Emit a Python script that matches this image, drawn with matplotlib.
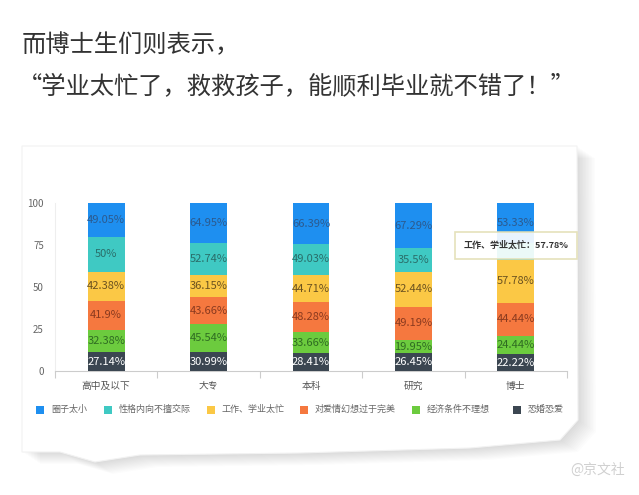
import numpy as np
import matplotlib
matplotlib.use("Agg")
import matplotlib.pyplot as plt
from matplotlib.patches import Polygon, FancyBboxPatch

plt.rcParams['font.family'] = ['Noto Sans CJK SC', 'DejaVu Sans']

# ---- data ----
categories = ["高中及以下", "大专", "本科", "研究", "博士"]
series_names = ["圈子太小", "性格内向不擅交际", "工作、学业太忙", "对爱情幻想过于完美", "经济条件不理想", "恐婚恐爱"]
quanzi   = [49.05, 64.95, 66.39, 67.29, 53.33]
xingge   = [50.00, 52.74, 49.03, 35.50, 22.22]
gongzuo  = [42.38, 36.15, 44.71, 52.44, 57.78]
aiqing   = [41.90, 43.66, 48.28, 49.19, 44.44]
jingji   = [32.38, 45.54, 33.66, 19.95, 24.44]
kongh    = [27.14, 30.99, 28.41, 26.45, 22.22]

colors = ['#1e8ff0', '#3fc9c3', '#fbc845', '#f5783f', '#6ccb3e', '#3b4651']
label_colors = ['#2c5a8e', '#2a6d69', '#6b5220', '#8a3a1f', '#2f6c22', '#ffffff']

W, H = 639, 495
fig = plt.figure(figsize=(W / 100, H / 100), dpi=100)
fig.patch.set_facecolor('white')

def px(x, y):
    return (x / W, 1 - y / H)

# title text
fig.text(*px(22, 45), "而博士生们则表示，", fontsize=17.5, color='#333333', va='center', ha='left')
fig.text(*px(18, 86), "“学业太忙了，救救孩子，能顺利毕业就不错了！”", fontsize=17.5,
         color='#333333', va='center', ha='left')

# card with soft shadow
card = [(22, 146), (577, 146), (578, 420), (560, 440), (470, 448), (300, 453),
        (140, 455), (95, 462), (60, 452), (22, 452)]
for k in range(12, 0, -1):
    sh = [(x + k * 1.5, y + k * 1.0) for x, y in card]
    fig.patches.append(Polygon([px(*p) for p in sh], closed=True, transform=fig.transFigure,
                               facecolor='#000000', alpha=0.011, edgecolor='none', zorder=0))
fig.patches.append(Polygon([px(*p) for p in card], closed=True, transform=fig.transFigure,
                           facecolor='white', edgecolor='#f2f2f2', lw=0.8, zorder=1))

# chart axes
x0, x1, ytop, ybot = 55, 567, 203, 371
ax = fig.add_axes([x0 / W, 1 - ybot / H, (x1 - x0) / W, (ybot - ytop) / H])
ax.set_facecolor('none')
ax.set_zorder(2)

data = np.array([quanzi, xingge, gongzuo, aiqing, jingji, kongh])
totals = data.sum(axis=0)
pct = data / totals * 100
xs = np.arange(len(categories))
bottom = np.zeros(len(categories))
# draw from bottom (last series) to top (first series)
for i in range(len(series_names) - 1, -1, -1):
    ax.bar(xs, pct[i], bottom=bottom, width=0.36, color=colors[i], zorder=3)
    for j in range(len(categories)):
        if i == 1 and j == 4:
            continue  # hidden under the tooltip
        v = data[i][j]
        txt = ("%.2f" % v).rstrip('0').rstrip('.') + "%"
        ax.text(xs[j], bottom[j] + pct[i][j] / 2, txt, ha='center', va='center',
                fontsize=8, color=label_colors[i], zorder=4)
    bottom += pct[i]

ax.set_xlim(-0.5, len(categories) - 0.5)
ax.set_ylim(0, 100)
ax.set_yticks([0, 25, 50, 75, 100])
ax.tick_params(axis='y', length=0, labelsize=7, labelcolor='#666666', pad=8)
ax.set_xticks(xs)
ax.set_xticklabels(categories)
ax.tick_params(axis='x', length=0, labelsize=7, labelcolor='#555555', pad=7)
ax.set_xticks(np.arange(len(categories) + 1) - 0.5, minor=True)
ax.tick_params(axis='x', which='minor', length=5, color='#cccccc', width=0.8)
for s in ['top', 'right']:
    ax.spines[s].set_visible(False)
ax.spines['left'].set_color('#eeeeee')
ax.spines['left'].set_linewidth(0.8)
ax.spines['bottom'].set_color('#cccccc')
ax.spines['bottom'].set_linewidth(0.8)

# tooltip over the 博士 teal segment
teal_top = pct[5][4] + pct[4][4] + pct[3][4] + pct[2][4] + pct[1][4]
ax.annotate("工作、学业太忙：57.78%", xy=(4, teal_top - pct[1][4]),
            xytext=(4, teal_top - 1.5), ha='center', va='center', fontsize=6.5, color='#333333',
            fontweight='bold', zorder=10, annotation_clip=False,
            bbox=dict(boxstyle='square,pad=0.95', fc='#ffffff', ec='#e3dfb4', lw=1.2, alpha=0.9))

# legend
leg_x = [36, 104, 207, 300, 412, 513]
for i, name in enumerate(series_names):
    fig.patches.append(FancyBboxPatch(px(leg_x[i], 414), 8 / W, 8 / H, boxstyle='square,pad=0',
                                      transform=fig.transFigure, facecolor=colors[i],
                                      edgecolor='none', zorder=3))
    fig.text(*px(leg_x[i] + 15, 409.5), name, fontsize=6.5, color='#666666',
             va='center', ha='left', zorder=3)

# watermark
fig.text(*px(625, 470), "@京文社", fontsize=10, color='#d0d0d0', ha='right', va='center')

fig.savefig("out.png", dpi=100)
